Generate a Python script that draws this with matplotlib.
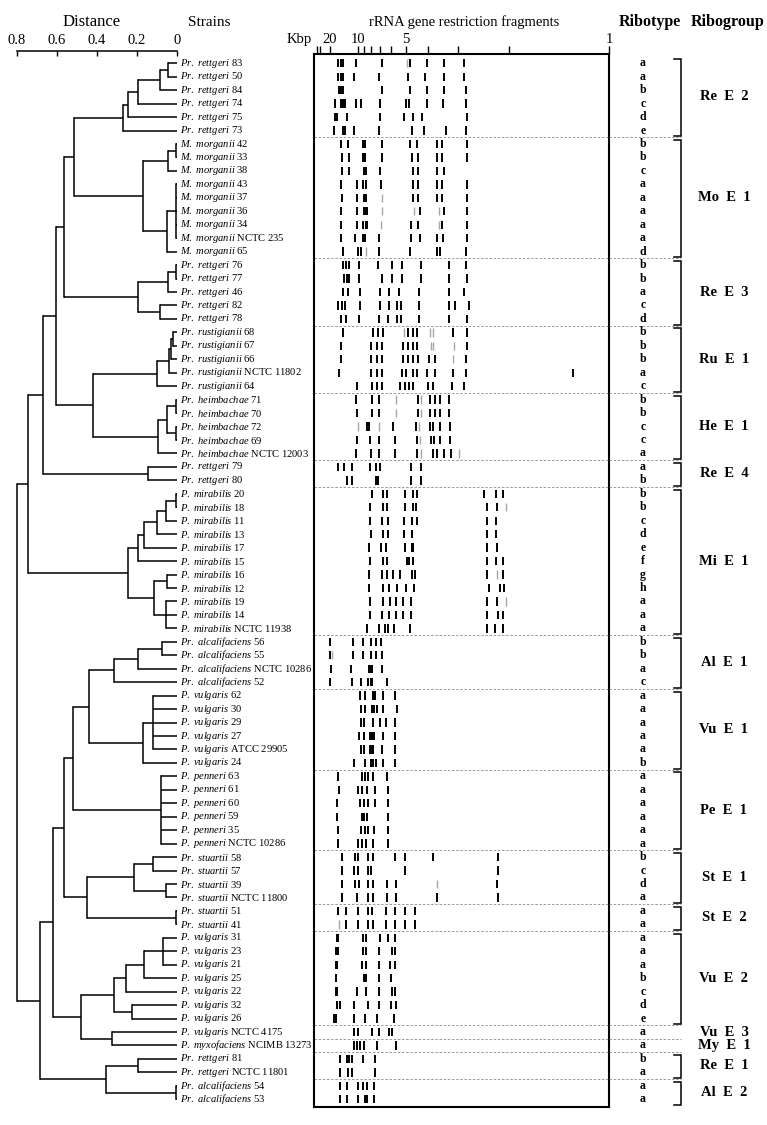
import matplotlib
matplotlib.use("Agg")
import matplotlib.pyplot as plt

plt.rcParams["font.family"] = ["Liberation Serif", "DejaVu Serif"]
plt.rcParams["mathtext.fontset"] = "custom"
plt.rcParams["mathtext.rm"] = "Liberation Serif"
plt.rcParams["mathtext.it"] = "Liberation Serif:italic"
plt.rcParams["mathtext.bf"] = "Liberation Serif:bold"

W, H = 767, 1125

# strains, top to bottom
SPECIES = (["Pr. rettgeri"] * 6 + ["M. morganii"] * 9 + ["Pr. rettgeri"] * 5
           + ["Pr. rustigianii"] * 5 + ["Pr. heimbachae"] * 5 + ["Pr. rettgeri"] * 2
           + ["P. mirabilis"] * 11 + ["Pr. alcalifaciens"] * 4 + ["P. vulgaris"] * 6
           + ["P. penneri"] * 6 + ["Pr. stuartii"] * 6 + ["P. vulgaris"] * 8
           + ["P. myxofaciens"] + ["Pr. rettgeri"] * 2 + ["Pr. alcalifaciens"] * 2)
STRAIN_IDS = ["83", "50", "84", "74", "75", "73",
              "42", "33", "38", "43", "37", "36", "34", "NCTC 235", "65",
              "76", "77", "46", "82", "78",
              "68", "67", "66", "NCTC 11802", "64",
              "71", "70", "72", "69", "NCTC 12003",
              "79", "80",
              "20", "18", "11", "13", "17", "15", "16", "12", "19", "14", "NCTC 11938",
              "56", "55", "NCTC 10286", "52",
              "62", "30", "29", "27", "ATCC 29905", "24",
              "63", "61", "60", "59", "35", "NCTC 10286",
              "58", "57", "39", "NCTC 11800", "51", "41",
              "31", "23", "21", "25", "22", "32", "26", "NCTC 4175",
              "NCIMB 13273",
              "81", "NCTC 11801", "54", "53"]

RIBOTYPES = list("aabcde" "bbcaaaaad" "bbacd" "bbbac" "bbcca" "ab" "bbcdefghaaa"
                 "bbac" "aaaaab" "aaaaaa" "bcda" "aa" "aaabcde" "a" "a" "ba" "aa")

GROUP_NAMES = ["Re  E  2", "Mo  E  1", "Re  E  3", "Ru  E  1", "He  E  1", "Re  E  4",
               "Mi  E  1", "Al  E  1", "Vu  E  1", "Pe  E  1", "St  E  1", "St  E  2",
               "Vu  E  2", "Vu  E  3", "My  E  1", "Re  E  1", "Al  E  2"]
GROUP_SIZES = [6, 9, 5, 5, 5, 2, 11, 4, 6, 6, 4, 2, 7, 1, 1, 2, 2]

# UPGMA merges: (node, children, distance); ints are strain rows
MERGES = [
    ("re2a", (0, 1), 0.044), ("re2b", ("re2a", 2), 0.085), ("re2c", ("re2b", 3), 0.197),
    ("re2d", ("re2c", 4), 0.247), ("re2", ("re2d", 5), 0.272),
    ("mo_a", (6, 7), 0.005), ("mo_b", ("mo_a", 8), 0.047),
    ("mo_c", (9, 10, 11, 12, 13), 0.005), ("mo_d", ("mo_c", 14), 0.052),
    ("mo", ("mo_b", "mo_d"), 0.172), ("re2mo", ("re2", "mo"), 0.515),
    ("re3a", (15, 16), 0.005), ("re3b", ("re3a", 17), 0.047), ("re3c", (18, 19), 0.085),
    ("re3", ("re3b", "re3c"), 0.197), ("nb", ("re2mo", "re3"), 0.565),
    ("ru_a", (20, 21), 0.020), ("ru_b", ("ru_a", 22), 0.030), ("ru_c", ("ru_b", 23), 0.040),
    ("ru", ("ru_c", 24), 0.100),
    ("he_a", (25, 26), 0.005), ("he_b", (27, 28), 0.005), ("he_c", ("he_a", "he_b"), 0.052),
    ("he", ("he_c", 29), 0.094), ("ruhe", ("ru", "he"), 0.419),
    ("na", ("nb", "ruhe"), 0.605), ("re4", (30, 31), 0.144), ("nc", ("na", "re4"), 0.669),
    ("mi_a", (32, 33), 0.005), ("mi_b", ("mi_a", 34), 0.057), ("mi_c", ("mi_b", 35), 0.100),
    ("mi_d", ("mi_c", 36), 0.163), ("mi_e", ("mi_d", 37), 0.194),
    ("mi_f", (38, 39), 0.052), ("mi_g", (40, 41, 42), 0.057), ("mi_h", ("mi_f", "mi_g"), 0.115),
    ("mi", ("mi_e", "mi_h"), 0.244), ("nd", ("nc", "mi"), 0.747),
    ("al_a", (43, 44), 0.077), ("al_b", ("al_a", 45), 0.194), ("al", ("al_b", 46), 0.315),
    ("vu1_a", (47, 48, 49, 50, 51), 0.122), ("vu1", ("vu1_a", 52), 0.172),
    ("alvu", ("al", "vu1"), 0.439), ("pe", (53, 54, 55, 56, 57, 58), 0.080),
    ("alvupe", ("alvu", "pe"), 0.519),
    ("st1_a", (59, 60), 0.122), ("st1_b", (61, 62), 0.057), ("st1", ("st1_a", "st1_b"), 0.215),
    ("st2", (63, 64), 0.004), ("st", ("st1", "st2"), 0.449), ("ne", ("alvupe", "st"), 0.565),
    ("vu2_a", (65, 66, 67), 0.069), ("vu2_b", ("vu2_a", 68), 0.164), ("vu2_c", ("vu2_b", 69), 0.255),
    ("vu2_d", (70, 71), 0.227), ("vu2", ("vu2_c", "vu2_d"), 0.314),
    ("vu3my", (72, 73), 0.327), ("nf", ("vu2", "vu3my"), 0.482), ("ng", ("ne", "nf"), 0.619),
    ("re1", (74, 75), 0.197), ("al2", (76, 77), 0.004), ("re1al2", ("re1", "al2"), 0.355),
    ("nh", ("ng", "re1al2"), 0.685), ("root", ("nd", "nh"), 0.800),
]

# size marker calibration: kbp vs migration (mm)
MARKER_KBP = [40, 30, 20, 10, 9, 8, 7, 6, 5, 4, 3, 2, 1]
MARKER_MM = [1.1, 2.0, 5.4, 14.8, 17.0, 19.2, 22.3, 26.1, 31.2, 38.5, 48.9, 66.1, 100.0]

# band migration (mm) per strain, by ribogroup
BANDS_RE_E2 = [
    [8.2, 9.1, 9.9, 14.2, 22.9, 32.5, 38.1, 44.0, 50.8],
    [8.2, 9.1, 9.9, 13.5, 22.0, 31.7, 37.6, 44.0, 50.8],
    [8.6, 9.3, 9.9, 22.9, 32.5, 38.1, 44.0, 51.4],
    [7.2, 9.0, 9.8, 10.5, 14.2, 15.9, 22.3, 31.2, 32.3, 38.1, 43.8, 51.4],
    [7.1, 7.9, 11.3, 22.3, 30.6, 33.6, 36.7, 51.9],
    [6.8, 9.7, 10.6, 13.5, 22.0, 33.1, 37.4, 44.6, 51.4],
]
BANDS_MO_E1 = [
    [9.1, 11.6, 16.5, 17.3, 22.9, 32.5, 34.8, 41.5, 43.4, 51.9],
    [9.6, 11.9, 16.5, 17.3, 22.9, 33.1, 35.3, 41.8, 43.5, 51.9],
    [9.6, 11.9, 17.0, 17.6, 22.3, 33.6, 35.3, 41.8, 44.0],
    [9.1, 14.7, 16.5, 17.5, 22.6, 33.6, 35.3, 41.8, 43.5, 51.9],
    [9.6, 14.7, 16.9, 17.5, 33.6, 35.3, 41.8, 43.5, 51.9],
    [9.1, 14.7, 16.9, 17.6, 18.1, 35.9, 44.0, 51.9],
    [9.1, 14.7, 16.5, 17.5, 18.1, 32.8, 35.3, 43.5, 51.9],
    [9.1, 13.9, 16.5, 17.3, 22.0, 32.8, 35.9, 41.5, 43.8, 51.9],
    [9.7, 15.0, 15.8, 22.0, 32.5, 41.5, 42.6, 51.4],
]
BANDS_RE_E3 = [
    [9.7, 10.7, 12.0, 15.2, 21.8, 26.3, 29.7, 36.1, 45.7, 51.4],
    [10.3, 11.1, 12.0, 15.2, 22.9, 26.3, 29.7, 36.1, 45.7, 51.9],
    [9.7, 11.6, 15.6, 22.3, 25.5, 28.8, 35.7, 45.8, 50.8],
    [8.0, 9.6, 10.5, 15.6, 22.3, 25.5, 28.2, 29.3, 35.6, 45.8, 47.7, 52.5],
    [9.1, 10.7, 15.2, 22.0, 25.2, 28.2, 29.3, 35.6, 45.8, 51.9],
]
BANDS_RU_E1 = [
    [9.7, 19.9, 21.6, 23.3, 31.9, 33.6, 35.0, 47.0, 51.9],
    [9.1, 19.3, 21.2, 22.9, 30.0, 31.9, 33.6, 35.0, 51.9],
    [9.1, 19.3, 21.2, 22.9, 30.0, 31.9, 33.6, 35.3, 38.9, 41.0, 51.4],
    [8.6, 19.3, 21.2, 22.9, 29.7, 31.2, 33.4, 34.8, 38.2, 41.0, 47.0, 51.4, 87.8],
    [14.7, 19.5, 21.4, 22.9, 29.1, 30.8, 32.3, 33.6, 38.7, 40.2, 46.6, 50.8],
]
BANDS_HE_E1 = [
    [14.2, 19.5, 22.0, 35.1, 39.3, 41.0, 42.7, 45.8],
    [14.7, 19.5, 22.0, 35.1, 39.3, 41.0, 42.7, 45.8],
    [17.8, 18.7, 26.9, 34.5, 39.3, 40.4, 42.7, 46.0],
    [14.7, 19.0, 22.0, 27.4, 34.8, 39.5, 40.6, 42.7, 46.0],
    [14.1, 19.2, 22.0, 27.4, 35.0, 40.2, 41.5, 44.0, 46.3],
]
BANDS_RE_E4 = [
    [8.0, 10.3, 13.0, 19.0, 21.0, 22.3, 32.7, 36.1],
    [11.1, 12.8, 21.0, 21.8, 32.7, 36.1],
]
BANDS_MI_E1 = [
    [19.5, 23.5, 24.8, 30.8, 33.6, 34.8, 57.7, 61.6, 64.1],
    [19.0, 23.3, 24.8, 30.8, 33.4, 34.5, 58.7, 62.1],
    [19.0, 23.1, 25.2, 30.5, 33.1, 34.8, 58.5, 61.6],
    [19.3, 23.3, 25.2, 30.5, 33.1, 58.5, 61.6],
    [18.6, 22.6, 24.4, 30.8, 33.1, 33.6, 58.5, 62.1],
    [19.0, 23.3, 24.8, 31.4, 32.3, 33.6, 58.5, 61.6, 64.1],
    [18.6, 22.9, 24.8, 26.9, 29.1, 33.1, 34.2, 58.5, 64.1],
    [18.6, 23.3, 25.5, 28.0, 31.2, 33.9, 59.4, 63.0, 64.3],
    [19.0, 23.3, 25.7, 27.8, 30.0, 32.7, 58.5, 61.9],
    [19.0, 22.9, 25.5, 27.8, 30.0, 32.7, 58.5, 62.4, 63.9],
    [17.8, 22.0, 24.0, 25.2, 27.1, 32.5, 58.5, 61.3, 64.1],
]
BANDS_AL_E1 = [
    [5.4, 13.1, 16.5, 19.2, 20.9, 22.6],
    [5.4, 13.3, 16.7, 19.2, 21.0, 22.9],
    [5.8, 12.5, 18.6, 19.2, 19.7, 22.9],
    [5.4, 13.0, 15.9, 18.4, 19.2, 19.7, 24.8],
]
BANDS_VU_E1 = [
    [15.6, 17.3, 19.9, 20.6, 23.5, 27.4],
    [15.9, 17.3, 19.5, 20.3, 21.2, 23.5, 28.0],
    [15.9, 17.1, 19.9, 22.3, 24.4, 27.4],
    [15.3, 17.0, 19.0, 19.5, 20.3, 23.3, 27.4],
    [15.9, 17.0, 19.0, 19.5, 20.1, 22.9, 27.4],
    [13.5, 17.3, 19.3, 20.1, 21.0, 23.5, 27.4],
]
BANDS_PE_E1 = [
    [8.2, 16.1, 17.3, 18.4, 20.1, 24.8],
    [8.6, 15.0, 16.1, 17.8, 20.6, 25.2],
    [7.9, 15.6, 16.9, 18.4, 20.6, 25.2],
    [7.9, 16.1, 17.0, 17.8, 25.2],
    [8.2, 15.9, 17.3, 18.4, 20.3, 25.2],
    [8.2, 15.0, 16.1, 17.5, 20.1, 25.2],
]
BANDS_ST_E1 = [
    [9.4, 13.9, 15.0, 18.2, 19.9, 27.4, 30.8, 40.4, 62.4],
    [9.4, 13.5, 15.0, 18.4, 19.3, 30.8, 62.4],
    [9.4, 13.9, 15.3, 18.4, 20.1, 24.6, 27.8, 61.9],
    [9.4, 14.7, 18.4, 20.1, 24.6, 27.8, 41.5, 62.2],
]
BANDS_ST_E2 = [
    [8.2, 10.7, 15.0, 18.2, 19.5, 24.4, 27.4, 30.8, 34.2],
    [10.7, 15.0, 18.2, 19.9, 24.4, 27.4, 30.8, 34.2],
]
BANDS_VU_E2 = [
    [7.7, 8.2, 16.7, 17.5, 22.3, 25.2, 27.4],
    [7.3, 8.2, 16.7, 17.6, 22.0, 26.5, 27.4],
    [7.4, 7.9, 16.4, 17.5, 22.0, 25.7, 27.4],
    [7.3, 17.0, 17.6, 22.0, 26.0],
    [7.4, 7.9, 14.7, 17.6, 22.0, 26.3, 27.4],
    [7.9, 8.8, 13.7, 18.2, 22.0, 26.0, 27.7],
    [6.8, 7.3, 13.7, 17.3, 21.4, 27.1],
]
BANDS_VU_E3 = [[13.7, 15.0, 19.5, 22.1, 25.5, 26.3]]
BANDS_MY_E1 = [[13.7, 14.4, 15.6, 16.9, 21.2, 27.7]]
BANDS_RE_E1 = [
    [8.8, 11.1, 12.0, 12.8, 16.7, 20.7],
    [8.8, 11.4, 12.8, 20.7],
]
BANDS_AL_E2 = [
    [8.8, 11.1, 15.0, 16.7, 17.8, 20.3],
    [8.8, 11.1, 15.0, 17.3, 17.8, 20.3],
]
# weak bands, keyed by strain row
FAINT_BANDS = {0: [31.6], 10: [22.9], 11: [22.9, 33.8, 42.4], 12: [22.6, 42.4], 14: [17.6],
               20: [30.6, 39.3, 40.2], 21: [39.5, 40.2, 47.5], 22: [47.2], 25: [27.8, 36.1],
               26: [27.8, 36.1], 27: [14.8, 22.1, 35.6], 28: [35.9], 29: [36.1, 49.2],
               33: [64.9], 38: [61.9], 40: [64.9], 44: [6.2], 61: [41.5], 64: [8.6]}

BANDS = (BANDS_RE_E2 + BANDS_MO_E1 + BANDS_RE_E3 + BANDS_RU_E1 + BANDS_HE_E1 + BANDS_RE_E4
         + BANDS_MI_E1 + BANDS_AL_E1 + BANDS_VU_E1 + BANDS_PE_E1 + BANDS_ST_E1 + BANDS_ST_E2
         + BANDS_VU_E2 + BANDS_VU_E3 + BANDS_MY_E1 + BANDS_RE_E1 + BANDS_AL_E2)


def main() -> None:
    n = len(SPECIES)
    fig = plt.figure(figsize=(W / 100, H / 100), dpi=100)

    top_px, bot_px = 54.3, 1106.7
    pitch = (1099.3 - 63.3) / (n - 1)
    ylim = ((bot_px - 63.3) / pitch, (top_px - 63.3) / pitch)
    ax_b = 1 - bot_px / H
    ax_h = (bot_px - top_px) / H

    tree = fig.add_axes([17 / W, ax_b, 160 / W, ax_h])
    gel = fig.add_axes([314 / W, ax_b, 295.3 / W, ax_h])
    side = fig.add_axes([609.3 / W, ax_b, (W - 609.3) / W, ax_h])

    # dendrogram
    lw = 1.1
    ypos = {i: float(i) for i in range(n)}
    hgt = {i: 0.0 for i in range(n)}
    for name, kids, dist in MERGES:
        ys = [ypos[k] for k in kids]
        tree.plot([dist, dist], [min(ys), max(ys)], color="black", lw=lw,
                  solid_capstyle="projecting", clip_on=False)
        for k in kids:
            tree.plot([hgt[k], dist], [ypos[k], ypos[k]], color="black", lw=lw,
                      solid_capstyle="butt", clip_on=False)
        ypos[name] = (min(ys) + max(ys)) / 2
        hgt[name] = dist

    for i, (sp, sid) in enumerate(zip(SPECIES, STRAIN_IDS)):
        label = "$\\mathit{" + sp.replace(" ", "\\ ") + "}$ " + sid
        tree.annotate(label, xy=(0, i), xytext=(2.2, 0), textcoords="offset points",
                      va="center", ha="left", fontsize=7.6, annotation_clip=False)

    tree.set_xlim(0.8, 0)
    tree.set_ylim(*ylim)
    for s in ("left", "right", "bottom"):
        tree.spines[s].set_visible(False)
    tree.spines["top"].set_position(("outward", 2.5))
    tree.spines["top"].set_linewidth(1.1)
    tree.xaxis.set_ticks_position("top")
    tree.set_xticks([0.8, 0.6, 0.4, 0.2, 0.0])
    tree.set_xticklabels(["0.8", "0.6", "0.4", "0.2", "0"])
    tree.tick_params(axis="x", direction="in", length=3.5, width=1.0, pad=2.5, labelsize=10.5)
    tree.set_yticks([])
    tree.patch.set_visible(False)

    # gel lanes
    for i, bands in enumerate(BANDS):
        gel.vlines(bands, i - 0.31, i + 0.31, color="black", lw=1.4)
    for i, bands in FAINT_BANDS.items():
        gel.vlines(bands, i - 0.31, i + 0.31, color="#a6a6a6", lw=1.0)
    gel.set_xlim(0, 100)
    gel.set_ylim(*ylim)
    gel.xaxis.set_ticks_position("top")
    gel.set_xticks(MARKER_MM)
    gel.set_xticklabels([str(k) if k in (20, 10, 5, 1) else "" for k in MARKER_KBP])
    gel.tick_params(axis="x", direction="out", length=5.6, width=1.0, pad=0.5, labelsize=10.5)
    gel.set_yticks([])
    for s in gel.spines.values():
        s.set_linewidth(1.5)

    # ribotypes, ribogroups, separators
    side.set_xlim(609.3, W)
    side.set_ylim(*ylim)
    side.axis("off")
    dash = dict(color="#8c8c8c", lw=0.6, linestyles=(0, (3, 2)))
    for i, r in enumerate(RIBOTYPES):
        side.text(643, i, r, ha="center", va="center", fontsize=8.5, fontweight="bold")
    start = 0
    for name, size in zip(GROUP_NAMES, GROUP_SIZES):
        first, last = start, start + size - 1
        if size > 1:
            side.plot([674, 681, 681, 674], [first - 0.3, first - 0.3, last + 0.42, last + 0.42],
                      color="black", lw=1.1, solid_joinstyle="miter")
        side.text(724, (first + last) / 2, name, ha="center", va="center",
                  fontsize=10.5, fontweight="bold")
        if last < n - 1:
            gel.hlines(last + 0.5, 0, 100, **dash)
            side.hlines(last + 0.5, 609.3, 681, **dash)
        start += size

    # headers
    def put(x, y, s, **kw):
        fig.text(x / W, 1 - y / H, s, ha="center", va="center", **kw)

    put(92, 22, "Distance", fontsize=12)
    put(209, 22, "Strains", fontsize=11)
    put(464, 22, "rRNA gene restriction fragments", fontsize=10.5)
    put(299, 40, "Kbp", fontsize=10.5)
    put(650, 22, "Ribotype", fontsize=11.5, fontweight="bold")
    put(728, 22, "Ribogroup", fontsize=11.5, fontweight="bold")

    fig.savefig("out.png", dpi=100)
    plt.close(fig)


if __name__ == "__main__":
    main()
